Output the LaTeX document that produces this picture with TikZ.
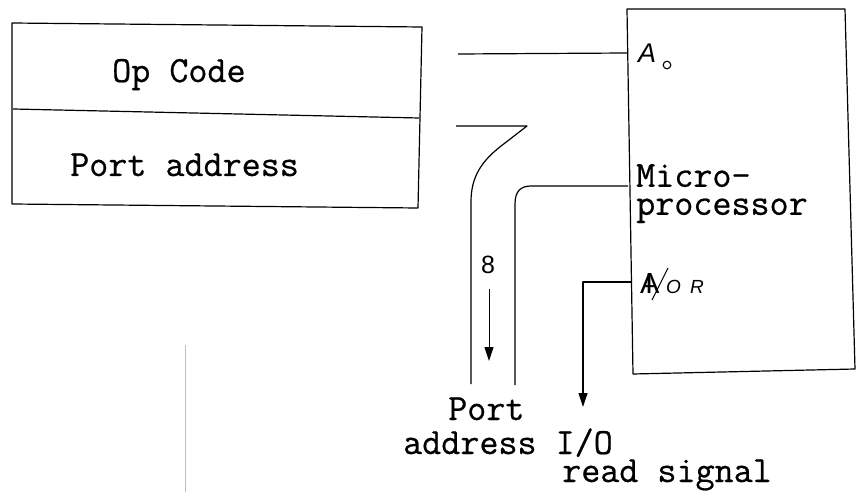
\documentclass[tikz,border=0pt]{standalone}
\usepackage{fontspec}
\newfontfamily\handfont{Liberation Sans}
\newfontfamily\twfont[FakeBold=0.6]{Latin Modern Mono}
\usetikzlibrary{arrows.meta}
\tikzset{
  wire/.style={line width=1.2pt, line join=round},
  tw/.style={font=\twfont\fontsize{37}{28}\selectfont, inner sep=0pt, anchor=base west},
  hand/.style={font=\handfont\itshape\fontsize{27}{29}\selectfont, inner sep=0pt, anchor=base west},
  tip/.style={-{Triangle[length=14pt,width=9pt]}}
}
\begin{document}
\begin{tikzpicture}[x=1pt,y=-1pt]
\useasboundingbox (0,0) rectangle (863,492);
% instruction box
\draw[wire] (12,23) -- (422,27) -- (418,208) -- (12,204) -- cycle;
\draw[wire] (13,109) -- (419,118);
\node[tw] (op) at (112,82) {Op Code};
\node[tw] (pa) at (70,176) {Port address};
% microprocessor box
\draw[wire] (627,9) -- (845,9) -- (855,369) -- (633,374) -- cycle;
\coordinate (a0in) at (627,53);
\coordinate (addrin) at (628,186);
\coordinate (iorout) at (631,282);
\node[tw, align=left, anchor=north west] (mp) at (636,164) {Micro-\\processor};
% A0 label
\node[hand] (a0) at (638,63) {A};
\node[inner sep=0pt] (a0s) at (667,65) {\tikz\draw[line width=1.1pt] (0,0) circle (3.8pt);};
% IOR label
\node[hand, font=\handfont\fontsize{29}{31}\selectfont] (ior1) at (640,294) {A};
\node[hand, font=\handfont\fontsize{29}{31}\selectfont] (ior2) at (645,294) {I};
\draw[line width=1.1pt] (652,300) -- (668,268);
\node[hand, font=\handfont\itshape\fontsize{19}{21}\selectfont] (ior3) at (666,294) {O};
\node[hand, font=\handfont\itshape\fontsize{19}{21}\selectfont] (ior4) at (690,294) {R};
% A0 line
\coordinate (a0src) at (458,54);
\draw[wire] (a0src) -- (a0in);
% port address curve
\coordinate (p1) at (456,126);
\coordinate (p2) at (527,126);
\coordinate (p3) at (471,384);
\draw[wire] (p1) -- (p2) -- (505,143) .. controls (482,160) and (471,176) .. (471,202) -- (p3);
\coordinate (q3) at (515,385);
\draw[wire] (addrin) -- (531,186) .. controls (521,186) and (515,191) .. (515,204) -- (q3);
% 8 and arrow
\node[font=\handfont\fontsize{25}{27}\selectfont, inner sep=0pt] (eight) at (488,265) {8};
\coordinate (e1) at (489,289);
\coordinate (e2) at (489,361);
\draw[line width=1pt, tip] (e1) -- (e2);
% IOR line
\coordinate (r1) at (583,282);
\coordinate (r2) at (583,407);
\draw[wire, tip] (iorout) -- (r1) -- (r2);
% bottom labels
\node[tw] (lp) at (448,420) {Port};
\node[tw] (la) at (403,454) {address I/O};
\node[tw] (lr) at (562,482) {read signal};
% faint scan line
\draw[black!25, line width=0.8pt] (185,345) -- (185,492);
\end{tikzpicture}
\end{document}
